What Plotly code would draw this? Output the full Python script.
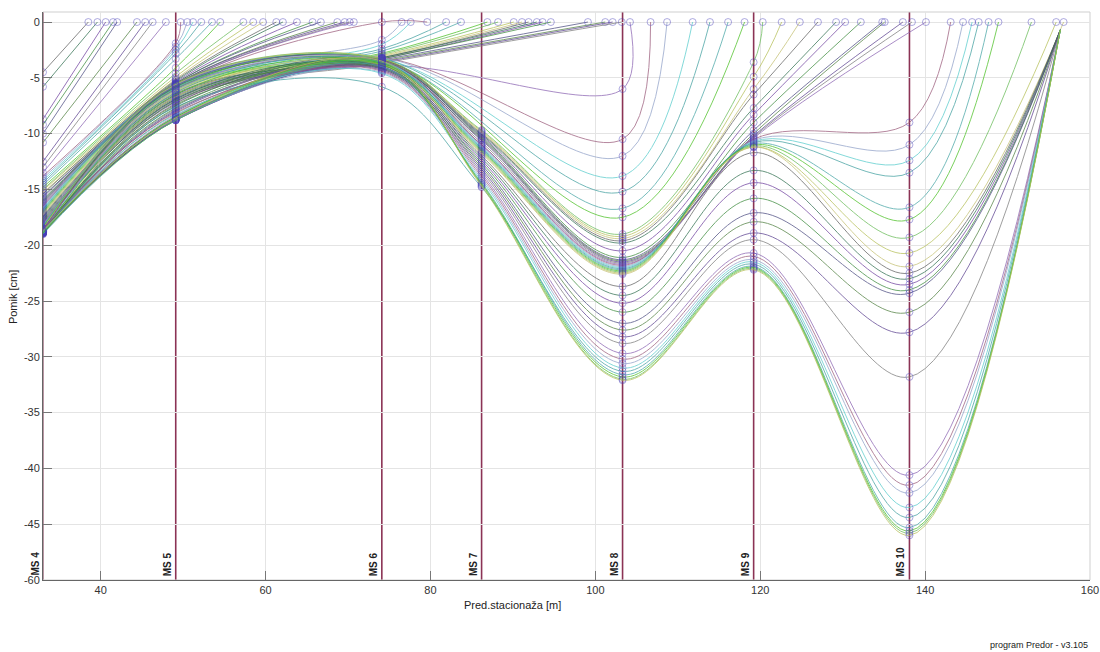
import plotly.graph_objects as go

# ---------------- data ----------------
STATION_X = [33.0, 49.1, 74.1, 86.2, 103.3, 119.2, 138.1]
STATION_LABELS = ["MS 4", "MS 5", "MS 6", "MS 7", "MS 8", "MS 9", "MS 10"]

# profiles ending at zero displacement ahead of the face
# (MS4, zero_x)
PROF_MS4 = [
    (-4.5, 38.5), (-5.8, 39.6), (-8.7, 40.6), (-9.2, 41.5), (-10.0, 42.0),
    (-10.8, 44.4), (-12.5, 45.4), (-13.0, 46.3), (-13.5, 47.9),
]
# (MS4, MS5, zero_x)
PROF_MS5 = [
    (-13.8, -1.9, 49.7), (-14.0, -2.2, 50.5), (-14.2, -2.5, 51.2), (-14.4, -2.8, 52.2),
    (-14.6, -3.3, 53.5), (-14.8, -4.1, 54.5), (-15.0, -4.6, 57.3), (-15.1, -4.9, 58.5),
    (-15.3, -5.1, 59.7), (-15.4, -5.2, 61.3), (-15.6, -5.3, 62.1), (-15.7, -5.4, 63.8),
    (-15.9, -5.5, 65.7), (-16.0, -5.5, 66.7), (-16.1, -5.6, 68.7), (-16.2, -5.6, 69.6),
    (-16.3, -5.7, 70.2), (-16.4, -5.7, 70.7),
]
# (MS4, MS5, MS6, zero_x)
PROF_MS6 = [
    (-16.5, -5.8, 0.0, 79.6),
    (-16.6, -5.6, -1.6, 76.5), (-16.7, -5.7, -2.0, 77.6), (-16.8, -5.8, -2.4, 81.9),
    (-16.9, -5.9, -2.6, 83.7), (-17.0, -6.0, -2.8, 86.9), (-17.1, -6.1, -2.9, 88.2),
    (-17.2, -6.2, -3.0, 90.1), (-17.3, -6.3, -3.1, 91.1), (-17.4, -6.4, -3.2, 91.9),
    (-17.5, -6.5, -3.2, 92.9), (-17.6, -6.6, -3.3, 93.6), (-17.7, -6.7, -3.3, 94.6),
    (-17.8, -6.8, -3.4, 99.1), (-17.9, -6.9, -3.5, 101.2), (-18.0, -7.0, -3.6, 102.1),
    (-18.1, -7.1, -3.7, 103.2),
]
# (MS4, MS5, MS6, MS8, zero_x)
PROF_MS8 = [
    (-18.1, -7.2, -3.9, -6.0, 104.2), (-18.2, -5.5, -3.2, -10.5, 106.7),
    (-18.2, -5.6, -3.2, -12.0, 108.7), (-18.3, -5.7, -3.3, -13.8, 111.8),
    (-18.3, -5.8, -3.3, -15.2, 113.9), (-18.4, -5.9, -3.4, -16.7, 116.1),
    (-18.4, -6.0, -3.4, -17.5, 118.1),
]
# (MS4, MS5, MS6, MS7, MS8, MS9, zero_x)
PROF_MS9 = [
    (-18.4, -5.5, -3.3, -9.7, -19.0, -3.6, 120.3),
    (-18.5, -5.6, -3.3, -9.8, -19.2, -4.9, 122.6),
    (-18.5, -6.2, -3.4, -9.9, -19.4, -6.0, 124.8),
    (-18.5, -7.3, -3.4, -10.0, -19.6, -6.5, 127.0),
    (-18.6, -7.5, -3.5, -10.1, -19.8, -7.7, 129.2),
    (-18.6, -5.7, -3.5, -10.2, -20.5, -8.3, 130.3),
    (-18.6, -7.7, -3.6, -10.3, -21.1, -9.0, 132.2),
    (-18.6, -7.9, -3.6, -10.4, -21.3, -9.7, 134.8),
    (-18.7, -5.8, -3.7, -10.5, -21.4, -10.0, 135.1),
    (-18.7, -8.0, -3.7, -10.6, -21.5, -10.2, 137.3),
    (-18.7, -8.2, -3.8, -10.8, -21.6, -10.3, 138.4),
    (-18.7, -6.0, -3.8, -11.0, -21.7, -10.4, 140.1),
]
# (MS4, MS5, MS6, MS7, MS8, MS9, MS10, zero_x)
PROF_MS10 = [
    (-18.7, -8.4, -3.5, -11.0, -21.8, -10.5, -9.0, 143.1),
    (-18.8, -6.1, -3.5, -11.1, -21.9, -10.6, -11.0, 144.6),
    (-18.8, -8.5, -3.6, -11.2, -22.0, -10.7, -12.4, 145.7),
    (-18.8, -6.3, -3.6, -11.3, -22.1, -10.8, -13.5, 146.5),
    (-18.8, -8.5, -3.7, -11.4, -22.2, -10.9, -16.6, 147.7),
    (-18.8, -6.5, -3.7, -11.5, -22.3, -11.0, -17.7, 148.9),
    (-18.9, -8.6, -3.8, -11.6, -22.4, -11.1, -19.3, 152.9),
    (-18.9, -6.7, -3.8, -11.7, -22.5, -11.2, -20.7, 155.9),
    (-18.9, -8.7, -3.9, -11.8, -22.6, -11.2, -21.9, 156.8),
]
# profiles through MS10 converging at the face point
FACE_X, FACE_Y = 156.4, -0.7
# (MS4, MS5, MS6, MS7, MS8, MS9, MS10)
PROF_FACE = [
    (-18.9, -8.7, -3.9, -12.0, -23.7, -11.7, -22.5),
    (-18.9, -6.9, -4.0, -12.2, -24.5, -13.3, -23.0),
    (-18.9, -8.7, -4.0, -12.4, -25.2, -14.4, -23.5),
    (-19.0, -7.1, -4.1, -12.6, -26.0, -15.8, -24.0),
    (-18.6, -8.8, -4.1, -12.8, -27.0, -17.1, -24.3),
    (-18.7, -7.4, -4.2, -13.0, -27.6, -17.9, -26.0),
    (-18.8, -8.8, -4.2, -13.2, -28.2, -18.9, -27.8),
    (-18.9, -7.8, -4.3, -13.4, -28.8, -19.5, -31.8),
    (-18.5, -8.6, -4.3, -13.6, -29.7, -20.7, -40.6),
    (-18.6, -8.1, -4.4, -13.8, -30.2, -21.0, -41.5),
    (-18.7, -8.7, -4.5, -14.0, -30.6, -21.3, -42.2),
    (-18.8, -8.3, -4.6, -14.2, -31.0, -21.5, -43.5),
    (-18.9, -7.6, -5.8, -14.8, -31.3, -21.7, -44.4),
    (-19.0, -8.8, -4.0, -14.4, -31.6, -21.9, -45.3),
    (-18.9, -8.5, -3.8, -14.5, -31.8, -22.0, -45.6),
    (-18.8, -8.8, -3.6, -14.6, -32.0, -22.1, -45.8),
    (-18.7, -8.6, -3.5, -14.7, -32.1, -22.2, -46.0),
]

X_TICKS = [40, 60, 80, 100, 120, 140, 160]
Y_TICKS = [0, -5, -10, -15, -20, -25, -30, -35, -40, -45, -50]
Y_TICK_TEXT = ["0", "-5", "-10", "-15", "-20", "-25", "-30", "-35", "-40", "-45", "-60"]

# ---------------- styles ----------------
PALETTE = ["#5f5f5f", "#45a5a5", "#8a62b2", "#3a8a3a", "#b5bf55", "#55cccc",
           "#5a3f8f", "#2f6f4f", "#48c020", "#9a5a7a", "#4a4a80", "#c4c070",
           "#3f9f9f", "#7a7a7a", "#6f3f9f", "#66bb55", "#8fa0c8", "#4f7f3f"]
MARKER_COLOR = "rgba(70,60,185,0.85)"
MS_LINE_COLOR = "#8b3355"
FONT = "Liberation Sans, Arial, sans-serif"

fig = go.Figure()
counter = [0]


def add_profile(xs, ys, last_marker=True):
    color = PALETTE[(counter[0] * 7) % len(PALETTE)]
    counter[0] += 1
    sizes = [7] * len(xs)
    if not last_marker:
        sizes[-1] = 0
    fig.add_trace(go.Scatter(
        x=xs, y=ys, mode="lines+markers",
        line=dict(shape="spline", smoothing=1.0, width=1, color=color),
        marker=dict(symbol="circle-open", size=sizes, color=MARKER_COLOR,
                    line=dict(width=1, color=MARKER_COLOR)),
        opacity=0.72, hoverinfo="skip", showlegend=False))


def build(vals, zero_x=None, end=None):
    xs = [STATION_X[i] for i in range(len(vals))]
    ys = list(vals)
    if zero_x is not None:
        xs.append(zero_x)
        ys.append(0.0)
    if end is not None:
        xs.append(end[0])
        ys.append(end[1])
    return xs, ys


for v4, z in PROF_MS4:
    add_profile(*build([v4], zero_x=z))
for v4, v5, z in PROF_MS5:
    add_profile(*build([v4, v5], zero_x=z))
for v4, v5, v6, z in PROF_MS6:
    add_profile(*build([v4, v5, v6], zero_x=z))
for v4, v5, v6, v8, z in PROF_MS8:
    xs = [STATION_X[0], STATION_X[1], STATION_X[2], STATION_X[4], z]
    ys = [v4, v5, v6, v8, 0.0]
    add_profile(xs, ys)
for row in PROF_MS9:
    add_profile(*build(list(row[:6]), zero_x=row[6]))
for row in PROF_MS10:
    add_profile(*build(list(row[:7]), zero_x=row[7]))
for row in PROF_FACE:
    add_profile(*build(list(row), end=(FACE_X, FACE_Y)), last_marker=False)

shapes = []
for sx in STATION_X:
    shapes.append(dict(type="line", xref="x", yref="paper", x0=sx, x1=sx, y0=0, y1=1,
                       line=dict(color=MS_LINE_COLOR, width=1.6), layer="between"))
shapes.append(dict(type="rect", xref="paper", yref="paper", x0=0, x1=1, y0=0, y1=1,
                   line=dict(color="#cfcfcf", width=1), layer="below"))

annotations = []
for sx, lab in zip(STATION_X, STATION_LABELS):
    annotations.append(dict(x=sx, xref="x", y=0, yref="paper", text="<b>%s</b>" % lab,
                            textangle=-90, xanchor="right", yanchor="bottom",
                            showarrow=False, xshift=-1, yshift=2,
                            font=dict(family=FONT, size=10, color="#222")))
annotations.append(dict(x=-0.0287, xref="paper", y=0.498, yref="paper", text="Pomik [cm]",
                        textangle=-90, showarrow=False, xanchor="center", yanchor="middle",
                        font=dict(family=FONT, size=11, color="#222")))
annotations.append(dict(x=0.448, xref="paper", y=-0.044, yref="paper",
                        text="Pred.stacionaža [m]", showarrow=False,
                        xanchor="center", yanchor="middle",
                        font=dict(family=FONT, size=11, color="#222")))
annotations.append(dict(x=1.0, xref="paper", y=-0.114, yref="paper",
                        text="program Predor - v3.105", showarrow=False,
                        xanchor="right", yanchor="middle",
                        font=dict(family=FONT, size=9, color="#222")))

fig.update_layout(
    width=1100, height=652,
    margin=dict(l=43, r=10, t=12, b=72, autoexpand=False),
    paper_bgcolor="white", plot_bgcolor="white",
    shapes=shapes, annotations=annotations,
    font=dict(family=FONT, size=11, color="#333"),
    xaxis=dict(range=[33, 160], tickvals=X_TICKS, showgrid=True, gridcolor="#e4e4e4",
               zeroline=False, showline=True, linecolor="#666", linewidth=1,
               ticks="inside", ticklen=9, tickcolor="#777", automargin=False,
               tickfont=dict(family=FONT, size=11, color="#333")),
    yaxis=dict(range=[-50, 0.9], tickvals=Y_TICKS, ticktext=Y_TICK_TEXT,
               showgrid=True, gridcolor="#e4e4e4", zeroline=False, showline=True,
               linecolor="#666", linewidth=1, ticks="inside", ticklen=9, tickcolor="#777",
               automargin=False,
               tickfont=dict(family=FONT, size=11, color="#333")),
)

fig.write_html("out.html")
